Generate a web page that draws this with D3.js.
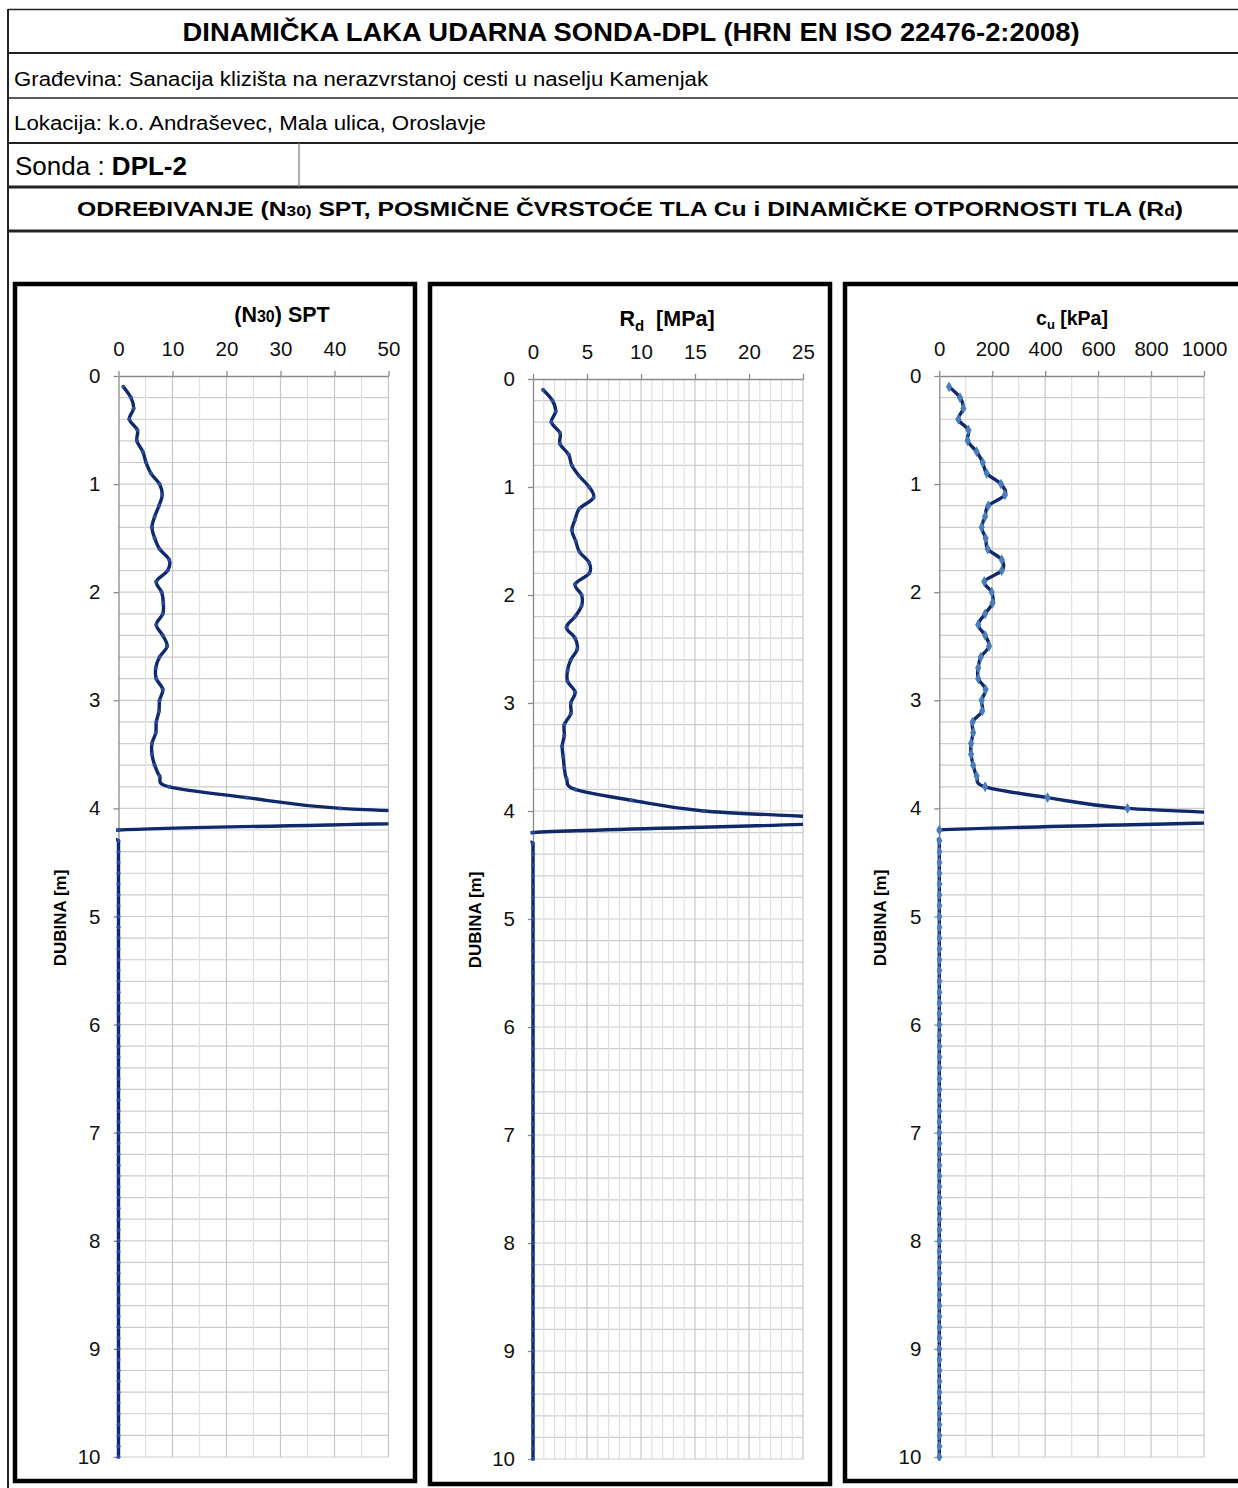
<!DOCTYPE html>
<html>
<head>
<meta charset="utf-8">
<script src="https://cdn.jsdelivr.net/npm/d3@7"></script>
<style>
  body { margin: 0; background: #fff; }
  svg { display: block; }
  text { font-family: "Liberation Sans", Arial, sans-serif; }
</style>
</head>
<body>
<div id="wrapper"></div>
<script>
// depth of each reading [m]
const depth = [
  0.1,0.2,0.3,0.4,0.5,0.6,0.7,0.8,0.9,1.0,
  1.1,1.2,1.3,1.4,1.5,1.6,1.7,1.8,1.9,2.0,
  2.1,2.2,2.3,2.4,2.5,2.6,2.7,2.8,2.9,3.0,
  3.1,3.2,3.3,3.4,3.5,3.6,3.7,3.8,3.9,4.0,
  4.1,4.2,4.3,4.4,4.5,4.6,4.7,4.8,4.9,5.0,
  5.1,5.2,5.3,5.4,5.5,5.6,5.7,5.8,5.9,6.0,
  6.1,6.2,6.3,6.4,6.5,6.6,6.7,6.8,6.9,7.0,
  7.1,7.2,7.3,7.4,7.5,7.6,7.7,7.8,7.9,8.0,
  8.1,8.2,8.3,8.4,8.5,8.6,8.7,8.8,8.9,9.0,
  9.1,9.2,9.3,9.4,9.5,9.6,9.7,9.8,9.9,10.0
]
// (N30) SPT
const nSpt = [
  0.9,2.3,2.8,2.0,3.5,3.4,4.5,5.1,6.0,7.6,
  8.1,7.5,6.7,6.2,6.7,7.6,9.4,9.1,7.0,8.0,
  8.3,8.2,7.0,8.2,9.0,7.6,6.9,7.0,8.2,7.6,
  7.5,7.0,6.9,6.2,6.2,6.7,7.6,9.4,23.7,41.1,
  80,0,0,0,0,0,0,0,0,0,
  0,0,0,0,0,0,0,0,0,0,
  0,0,0,0,0,0,0,0,0,0,
  0,0,0,0,0,0,0,0,0,0,
  0,0,0,0,0,0,0,0,0,0,
  0,0,0,0,0,0,0,0,0,0
]
// Rd [MPa]
const rd = [
  0.93,1.8,2.1,1.7,2.5,2.5,3.3,3.6,4.3,5.2,
  5.6,4.3,3.9,3.6,3.95,4.3,5.2,5.2,3.9,4.5,
  4.5,3.9,3.1,3.9,4.1,3.5,3.2,3.2,3.9,3.5,
  3.5,2.9,2.9,2.7,2.8,2.9,3.1,3.9,9.1,15.8,
  30,0,0,0,0,0,0,0,0,0,
  0,0,0,0,0,0,0,0,0,0,
  0,0,0,0,0,0,0,0,0,0,
  0,0,0,0,0,0,0,0,0,0,
  0,0,0,0,0,0,0,0,0,0,
  0,0,0,0,0,0,0,0,0,0
]
// cu [kPa]
const cu = [
  37,78,91,72,110,107,141,164,179,233,
  248,185,173,160,175,183,236,236,170,198,
  201,173,147,173,188,157,147,147,175,160,
  162,126,128,120,120,128,141,173,409,711,
  1400,0,0,0,0,0,0,0,0,0,
  0,0,0,0,0,0,0,0,0,0,
  0,0,0,0,0,0,0,0,0,0,
  0,0,0,0,0,0,0,0,0,0,
  0,0,0,0,0,0,0,0,0,0,
  0,0,0,0,0,0,0,0,0,0
]

const nTicks = [0, 10, 20, 30, 40, 50]
const rdTicks = [0, 5, 10, 15, 20, 25]
const cuTicks = [0, 200, 400, 600, 800, 1000]
const depthTicks = [0, 1, 2, 3, 4, 5, 6, 7, 8, 9, 10]

const lineColor = "#10296b"
const axisColor = "#8a8a8a"

const svg = d3.select("#wrapper")
  .append("svg")
    .attr("width", 1238)
    .attr("height", 1488)

// ---- header table ----
const head = svg.append("g")
const hline = (y, w) => head.append("line")
  .attr("x1", 8).attr("x2", 1238).attr("y1", y).attr("y2", y)
  .attr("stroke", "#222").attr("stroke-width", w)
hline(9.5, 1.5)
hline(53, 2)
hline(98, 1.5)
hline(143, 2)
hline(187, 3)
hline(231, 3)
head.append("line")
  .attr("x1", 8).attr("x2", 8).attr("y1", 9).attr("y2", 1488)
  .attr("stroke", "#222").attr("stroke-width", 2)
head.append("line")
  .attr("x1", 299).attr("x2", 299).attr("y1", 143).attr("y2", 187)
  .attr("stroke", "#777").attr("stroke-width", 1.2)

head.append("text")
  .attr("x", 631).attr("y", 41)
  .attr("text-anchor", "middle")
  .attr("font-size", 26).attr("font-weight", "bold")
  .attr("textLength", 897).attr("lengthAdjust", "spacingAndGlyphs")
  .text("DINAMIČKA LAKA UDARNA SONDA-DPL (HRN EN ISO 22476-2:2008)")

head.append("text")
  .attr("x", 14).attr("y", 86)
  .attr("font-size", 20)
  .attr("textLength", 694).attr("lengthAdjust", "spacingAndGlyphs")
  .text("Građevina: Sanacija klizišta na nerazvrstanoj cesti u naselju Kamenjak")

head.append("text")
  .attr("x", 14).attr("y", 130)
  .attr("font-size", 20)
  .attr("textLength", 472).attr("lengthAdjust", "spacingAndGlyphs")
  .text("Lokacija: k.o. Andraševec, Mala ulica, Oroslavje")

const sonda = head.append("text")
  .attr("x", 15).attr("y", 175)
  .attr("font-size", 26)
sonda.append("tspan").text("Sonda : ")
sonda.append("tspan").attr("font-weight", "bold").text("DPL-2")

const sub = head.append("text")
  .attr("x", 77).attr("y", 216)
  .attr("font-family", "'DejaVu Sans', sans-serif")
  .attr("font-size", 20).attr("font-weight", "bold")
  .attr("textLength", 1106).attr("lengthAdjust", "spacingAndGlyphs")
sub.append("tspan").text("ODREĐIVANJE (N")
sub.append("tspan").attr("font-size", 14).text("30)")
sub.append("tspan").text(" SPT, POSMIČNE ČVRSTOĆE TLA Cu i DINAMIČKE OTPORNOSTI TLA (R")
sub.append("tspan").attr("font-size", 14).text("d")
sub.append("tspan").text(")")

// ---- panels ----
const panels = [
  {
    id: "n", values: nSpt, ticks: nTicks, max: 50, minorStep: 5, majorStep: 10,
    box: [15, 284, 400, 1197], plot: [118.5, 376, 270, 1081],
    titleX: 282, titleY: 322, labelX: 60, labelY: 918, marker: "dot",
    title: t => {
      t.append("tspan").text("(N")
      t.append("tspan").attr("font-size", 16).text("30")
      t.append("tspan").text(") SPT")
    }
  },
  {
    id: "rd", values: rd, ticks: rdTicks, max: 25, minorStep: 1, majorStep: 5,
    box: [430, 284, 400, 1200], plot: [533, 379, 270, 1080],
    titleX: 667, titleY: 326, labelX: 475, labelY: 920, marker: "dot",
    title: t => {
      t.append("tspan").text("R")
      t.append("tspan").attr("font-size", 15).attr("dy", 5).text("d")
      t.append("tspan").attr("dy", -5).text("\u00a0\u00a0[MPa]")
    }
  },
  {
    id: "cu", values: cu, ticks: cuTicks, max: 1000, minorStep: 100, majorStep: 200,
    box: [845, 284, 420, 1197], plot: [939.3, 376, 264.7, 1081],
    titleX: 1072, titleY: 325, labelX: 880, labelY: 918, marker: "diamond",
    title: t => {
      t.attr("font-size", 19.5)
      t.append("tspan").text("c")
      t.append("tspan").attr("font-size", 13).attr("dy", 4).text("u")
      t.append("tspan").attr("dy", -4).text(" [kPa]")
    }
  }
]

function drawPanel(p) {
  const g = svg.append("g")

  g.append("rect")
    .attr("x", p.box[0]).attr("y", p.box[1])
    .attr("width", p.box[2]).attr("height", p.box[3])
    .attr("fill", "#fff")
    .attr("stroke", "#000").attr("stroke-width", 4.5)

  const xScale = d3.scaleLinear()
    .domain([0, p.max])
    .range([p.plot[0], p.plot[0] + p.plot[2]])
  const yScale = d3.scaleLinear()
    .domain([0, 10])
    .range([p.plot[1], p.plot[1] + p.plot[3]])

  // gridlines
  const hGrid = d3.range(0.2, 10.01, 0.2)
  g.append("g").selectAll("line")
    .data(hGrid)
    .join("line")
      .attr("x1", xScale(0)).attr("x2", xScale(p.max))
      .attr("y1", d => yScale(d)).attr("y2", d => yScale(d))
      .attr("stroke", "#cdcdcd").attr("stroke-width", 1.2)

  const vGrid = d3.range(p.minorStep, p.max + p.minorStep / 2, p.minorStep)
  g.append("g").selectAll("line")
    .data(vGrid)
    .join("line")
      .attr("x1", d => xScale(d)).attr("x2", d => xScale(d))
      .attr("y1", yScale(0)).attr("y2", yScale(10))
      .attr("stroke", d => Math.abs(d / p.majorStep - Math.round(d / p.majorStep)) < 1e-6 ? "#c6c6c6" : "#e0e0e0")
      .attr("stroke-width", 1.2)

  // axes
  const yAxisGen = d3.axisLeft(yScale)
    .tickValues(depthTicks)
    .tickFormat(d3.format("d"))
    .tickSize(5).tickSizeOuter(0).tickPadding(13)
  const yAxis = g.append("g")
    .attr("transform", `translate(${xScale(0)},0)`)
    .call(yAxisGen)

  const xAxisGen = d3.axisTop(xScale)
    .tickValues(p.ticks)
    .tickFormat(d3.format("d"))
    .tickSize(5).tickSizeOuter(0).tickPadding(15)
  const xAxis = g.append("g")
    .attr("transform", `translate(0,${yScale(0)})`)
    .call(xAxisGen)

  for (const ax of [xAxis, yAxis]) {
    ax.attr("font-family", null).attr("font-size", null)
    ax.selectAll("path, line").attr("stroke", axisColor).attr("stroke-width", 1.3)
    ax.selectAll("text").attr("fill", "#111").attr("font-size", 20.5)
  }

  // titles
  const t = g.append("text")
    .attr("x", p.titleX).attr("y", p.titleY)
    .attr("text-anchor", "middle")
    .attr("font-size", 21.5).attr("font-weight", "bold")
  p.title(t)

  g.append("text")
    .attr("transform", `translate(${p.labelX + 6},${p.labelY}) rotate(-90)`)
    .attr("text-anchor", "middle")
    .attr("font-size", 17).attr("font-weight", "bold")
    .text("DUBINA [m]")

  // data, clipped to the plot area like the spreadsheet chart
  const clipId = "clip-" + p.id
  g.append("clipPath").attr("id", clipId)
    .append("rect")
      .attr("x", xScale(0) - 2.5).attr("y", yScale(0) - 2)
      .attr("width", p.plot[2] + 2.5).attr("height", p.plot[3] + 6)

  const points = depth.map((d, i) => ({ depth: d, value: p.values[i] }))

  const lineGen = d3.line()
    .x(d => xScale(d.value))
    .y(d => yScale(d.depth))
    .curve(d3.curveCardinal.tension(0))

  const dataG = g.append("g").attr("clip-path", `url(#${clipId})`)
  dataG.append("path")
    .datum(points)
    .attr("d", lineGen)
    .attr("fill", "none")
    .attr("stroke", lineColor)
    .attr("stroke-width", 3.4)
    .attr("stroke-linejoin", "round")

  if (p.marker === "diamond") {
    dataG.selectAll(".mark")
      .data(points)
      .join("path")
        .attr("class", "mark")
        .attr("d", d3.symbol(d3.symbolDiamond, 34))
        .attr("transform", d => `translate(${xScale(d.value)},${yScale(d.depth)})`)
        .attr("fill", "#4a7ebb")
  } else {
    dataG.selectAll(".mark")
      .data(points)
      .join("circle")
        .attr("class", "mark")
        .attr("cx", d => xScale(d.value))
        .attr("cy", d => yScale(d.depth))
        .attr("r", 2)
        .attr("fill", "#2a4b9b")
  }
}

panels.forEach(drawPanel)
</script>
</body>
</html>
